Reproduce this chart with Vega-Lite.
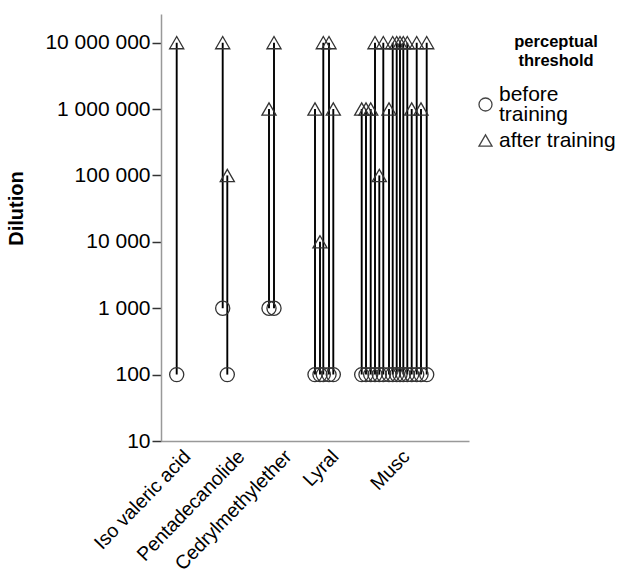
{
  "$schema": "https://vega.github.io/schema/vega-lite/v6.json",
  "autosize": {"type": "none"},
  "padding": {"left": 161, "top": 14, "right": 151, "bottom": 135},
  "width": 308,
  "height": 427,
  "background": "white",
  "title": {
    "text": ["perceptual", "threshold"],
    "anchor": "end",
    "align": "center",
    "frame": "group",
    "offset": 0,
    "dx": 87,
    "dy": 55,
    "fontSize": 16.5,
    "fontWeight": "bold",
    "lineHeight": 19,
    "color": "#000000",
    "font": "Liberation Sans"
  },
  "config": {
    "view": {"stroke": null},
    "font": "Liberation Sans",
    "style": {"guide-label": {"lineHeight": 20}}
  },
  "data": {
    "values": [
      {"odorant": "Iso valeric acid", "pos": 15.7, "before training": 100, "after training": 10000000},
      {"odorant": "Pentadecanolide", "pos": 61.7, "before training": 1000, "after training": 10000000},
      {"odorant": "Pentadecanolide", "pos": 66.3, "before training": 100, "after training": 100000},
      {"odorant": "Cedrylmethylether", "pos": 108, "before training": 1000, "after training": 1000000},
      {"odorant": "Cedrylmethylether", "pos": 113, "before training": 1000, "after training": 10000000},
      {"odorant": "Lyral", "pos": 154, "before training": 100, "after training": 1000000},
      {"odorant": "Lyral", "pos": 159, "before training": 100, "after training": 10000},
      {"odorant": "Lyral", "pos": 162.3, "before training": 100, "after training": 10000000},
      {"odorant": "Lyral", "pos": 168, "before training": 100, "after training": 10000000},
      {"odorant": "Lyral", "pos": 172.3, "before training": 100, "after training": 1000000},
      {"odorant": "Musc", "pos": 200.7, "before training": 100, "after training": 1000000},
      {"odorant": "Musc", "pos": 205, "before training": 100, "after training": 1000000},
      {"odorant": "Musc", "pos": 209.7, "before training": 100, "after training": 1000000},
      {"odorant": "Musc", "pos": 214, "before training": 100, "after training": 10000000},
      {"odorant": "Musc", "pos": 218.3, "before training": 100, "after training": 100000},
      {"odorant": "Musc", "pos": 222.3, "before training": 100, "after training": 10000000},
      {"odorant": "Musc", "pos": 228, "before training": 100, "after training": 1000000},
      {"odorant": "Musc", "pos": 231.7, "before training": 100, "after training": 10000000},
      {"odorant": "Musc", "pos": 235.7, "before training": 100, "after training": 10000000},
      {"odorant": "Musc", "pos": 239, "before training": 100, "after training": 10000000},
      {"odorant": "Musc", "pos": 242.3, "before training": 100, "after training": 10000000},
      {"odorant": "Musc", "pos": 246.3, "before training": 100, "after training": 10000000},
      {"odorant": "Musc", "pos": 250.7, "before training": 100, "after training": 1000000},
      {"odorant": "Musc", "pos": 255.7, "before training": 100, "after training": 10000000},
      {"odorant": "Musc", "pos": 260, "before training": 100, "after training": 1000000},
      {"odorant": "Musc", "pos": 265.7, "before training": 100, "after training": 10000000}
    ]
  },
  "resolve": {"scale": {"shape": "independent"}, "legend": {"shape": "independent"}},
  "encoding": {
    "x": {
      "field": "pos",
      "type": "quantitative",
      "scale": {"domain": [0, 308], "nice": false, "zero": false},
      "axis": {
        "title": null,
        "grid": false,
        "ticks": false,
        "domainColor": "#999999",
        "domainWidth": 1.5,
        "values": [26, 80, 127, 174, 245],
        "labelExpr": "datum.value == 26 ? 'Iso valeric acid' : datum.value == 80 ? 'Pentadecanolide' : datum.value == 127 ? 'Cedrylmethylether' : datum.value == 174 ? 'Lyral' : 'Musc'",
        "labelAngle": -46,
        "labelAlign": "right",
        "labelBaseline": "middle",
        "labelPadding": 12,
        "labelFontSize": 19.5,
        "labelColor": "#000000",
        "labelOverlap": false,
        "labelBound": false,
        "labelFlush": false
      }
    }
  },
  "layer": [
    {
      "mark": {"type": "rule", "color": "#000000", "strokeWidth": 1.9},
      "encoding": {
        "y": {
          "field": "before training",
          "type": "quantitative",
          "scale": {"type": "log", "domain": [10, 27000000], "nice": false},
          "axis": {
            "title": "Dilution",
            "titleFontSize": 20,
            "titleFontWeight": "bold",
            "titleColor": "#000000",
            "titleX": -145,
            "titleY": 194,
            "titleAngle": -90,
            "titleAlign": "center",
            "titleBaseline": "middle",
            "grid": false,
            "values": [10, 100, 1000, 10000, 100000, 1000000, 10000000],
            "labelExpr": "replace(format(datum.value, ','), /,/g, ' ')",
            "labelFontSize": 21,
            "labelColor": "#000000",
            "labelPadding": 2,
            "tickSize": 9,
            "tickColor": "#333333",
            "tickWidth": 1.5,
            "domainColor": "#999999",
            "domainWidth": 1.5
          }
        },
        "y2": {"field": "after training"}
      }
    },
    {
      "mark": {"type": "point", "filled": false, "size": 200, "strokeWidth": 1.3, "color": "#333333", "opacity": 1},
      "encoding": {
        "y": {"field": "before training", "type": "quantitative"},
        "shape": {
          "datum": "before training",
          "scale": {"domain": ["before training"], "range": ["circle"]},
          "legend": {
            "title": null,
            "orient": "none",
            "legendX": 314,
            "legendY": 80,
            "labelFontSize": 21,
            "labelColor": "#000000",
            "labelBaseline": "line-bottom",
            "labelExpr": "['\u00a0before', 'training']",
            "symbolSize": 170,
            "symbolStrokeColor": "#444444",
            "symbolStrokeWidth": 1.3,
            "symbolFillColor": "transparent",
            "labelOffset": 3
          }
        }
      }
    },
    {
      "mark": {"type": "point", "filled": false, "size": 200, "strokeWidth": 1.3, "color": "#333333", "opacity": 1},
      "encoding": {
        "y": {"field": "after training", "type": "quantitative"},
        "shape": {
          "datum": "after training",
          "scale": {"domain": ["after training"], "range": ["triangle-up"]},
          "legend": {
            "title": null,
            "orient": "none",
            "legendX": 314,
            "legendY": 116,
            "labelFontSize": 21,
            "labelColor": "#000000",
            "symbolSize": 170,
            "symbolStrokeColor": "#444444",
            "symbolStrokeWidth": 1.3,
            "symbolFillColor": "transparent",
            "labelOffset": 3
          }
        }
      }
    }
  ]
}
